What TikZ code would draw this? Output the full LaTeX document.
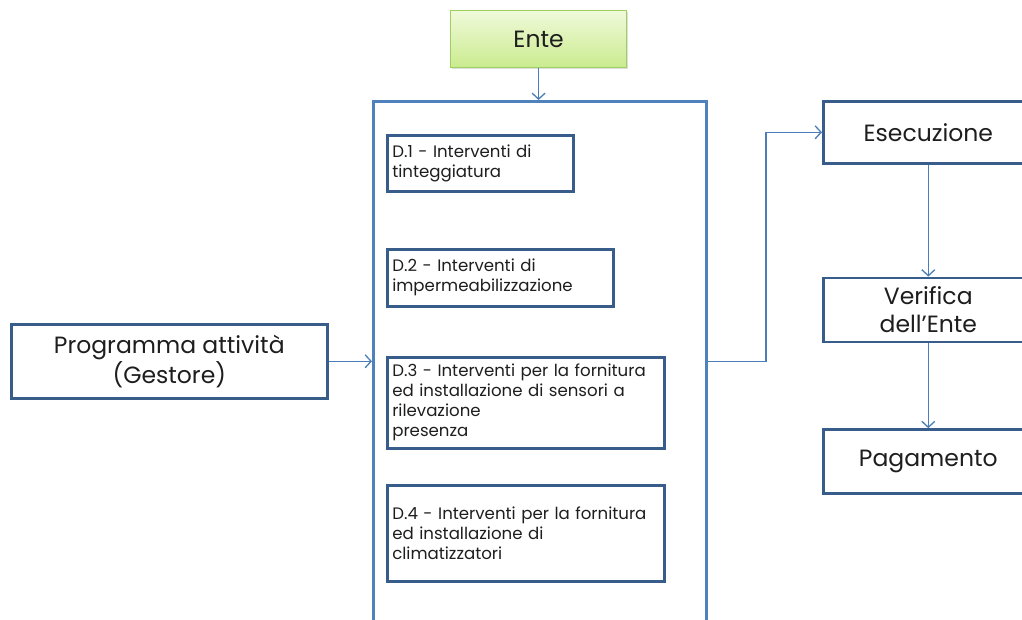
\documentclass[tikz,border=0pt]{standalone}
\usepackage{fontspec}
\setmainfont{Poppins}
\usepackage{tikz}
\usetikzlibrary{arrows.meta,positioning,shadows}

\begin{document}
\begin{tikzpicture}[
    x=1pt, y=-1pt,
    every node/.style={
        font=\fontsize{23.5}{28}\selectfont,
        text=textgray
    },
    box/.style={
        draw=boxblue,
        line width=2.6pt,
        rectangle,
        align=center,
        inner sep=0pt,
        fill=white
    },
    subbox/.style={
        box,
        anchor=north west,
        align=left,
        inner xsep=5pt,
        font=\fontsize{16.6}{20}\selectfont
    },
    arrow/.style={->, line width=1.3pt, draw=linkblue,
        >={Straight Barb[length=6pt,width=13pt]}}
]

%--- Color Definitions ---%
\definecolor{boxblue}{RGB}{56,93,138}
\definecolor{frameblue}{RGB}{79,129,189}
\definecolor{linkblue}{RGB}{74,126,187}
\definecolor{textgray}{RGB}{30,30,30}
\definecolor{entetop}{RGB}{240,250,218}
\definecolor{entebottom}{RGB}{202,235,142}
\definecolor{entedraw}{RGB}{158,208,96}

\clip (0,0) rectangle (1022,619);

%-----------------------------------------------
% TOP: Ente
%-----------------------------------------------
\node[draw=entedraw, line width=1.2pt,
      top color=entetop, bottom color=entebottom,
      drop shadow={opacity=0.25, shadow xshift=1.5pt, shadow yshift=-1.5pt},
      minimum width=176pt, minimum height=57pt,
      anchor=north west]
    (ente) at (450,10) {Ente};

%-----------------------------------------------
% CENTRE: interventions frame
%-----------------------------------------------
\node[draw=frameblue, line width=3pt, rectangle,
      minimum width=333pt, minimum height=560pt,
      anchor=north west]
    (frame) at (372,100) {};

\node[subbox, text width=176pt, minimum height=56pt]
    (d1) at (386,134) {D.1 - Interventi di\\tinteggiatura};

\node[subbox, text width=216pt, minimum height=57pt]
    (d2) at (386,248) {D.2 - Interventi di\\impermeabilizzazione};

\node[subbox, text width=267pt, minimum height=91pt]
    (d3) at (386,356) {D.3 - Interventi per la fornitura\\
                       ed installazione di sensori a\\
                       rilevazione\\
                       presenza};

\node[subbox, text width=267pt, minimum height=96pt]
    (d4) at (386,484) {D.4 - Interventi per la fornitura\\
                       ed installazione di\\
                       climatizzatori};

%-----------------------------------------------
% LEFT: Programma
%-----------------------------------------------
\node[box, minimum width=316pt, minimum height=74pt,
      anchor=north west, font=\fontsize{23.5}{30}\selectfont]
    (prog) at (10,323) {Programma attività\\(Gestore)};

%-----------------------------------------------
% RIGHT: workflow
%-----------------------------------------------
\node[box, minimum width=210pt, minimum height=62pt,
      anchor=north west]
    (esec) at (822,100) {Esecuzione};

\node[box, minimum width=210pt, minimum height=64pt,
      below=112pt of esec]
    (verif) {Verifica\\dell'Ente};

\node[box, minimum width=210pt, minimum height=64pt,
      below=85pt of verif]
    (pag) {Pagamento};

%-----------------------------------------------
% ARROWS
%-----------------------------------------------
\draw[arrow] (ente.south)  -- (ente.south |- frame.north);
\draw[arrow] (prog.east)   -- (frame.west |- prog.east);
\draw[arrow] (frame.east |- prog.east) -- ++(58,0) |- (esec.west);
\draw[arrow] (esec.south)  -- (verif.north);
\draw[arrow] (verif.south) -- (pag.north);

\end{tikzpicture}
\end{document}
